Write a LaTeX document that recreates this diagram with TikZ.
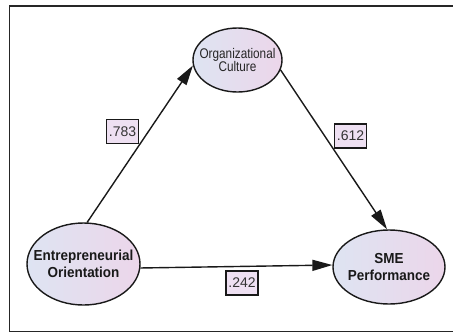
\documentclass[tikz,border=0pt]{standalone}
\usepackage{fontspec}
\setmainfont{Liberation Sans}
\newfontfamily\narrowfont[FakeStretch=0.84]{Liberation Sans}
\newfontfamily\semifont[FakeStretch=0.93]{Liberation Sans}
\usetikzlibrary{shapes.geometric,arrows.meta}
\definecolor{shadeL}{RGB}{222,228,242}
\definecolor{shadeR}{RGB}{236,214,234}
\definecolor{boxfill}{RGB}{238,224,242}
\definecolor{linec}{RGB}{25,25,25}
\tikzset{
  latent/.style={ellipse, draw=linec, line width=1.4pt, inner sep=0pt,
    left color=shadeL, right color=shadeR},
  coef/.style={draw=linec, line width=1.4pt, fill=boxfill, inner sep=1.5pt,
    minimum width=32pt, minimum height=24pt, font=\fontsize{14}{15}\selectfont, text=black!80},
  path/.style={draw=linec, line width=1.4pt, -{Triangle[length=20pt,width=11pt]}},
  boldlab/.style={font=\semifont\bfseries\fontsize{14.5}{17.5}\selectfont, align=center, text=black!90},
  normlab/.style={font=\narrowfont\fontsize{14}{13.5}\selectfont, align=center, text=black!85}
}
\begin{document}
\begin{tikzpicture}[x=1pt,y=-1pt]
\useasboundingbox (0,0) rectangle (453,333);
\draw[line width=1.6pt, draw=black!85] (453,6) -- (9.5,6) -- (9.5,331.5) -- (453,331.5);
\node[latent, minimum width=89pt, minimum height=64pt,
  label={[normlab]center:Organizational\\Culture}] (oc) at (237.5,60) {};
\node[latent, minimum width=113pt, minimum height=82pt,
  label={[boldlab]center:Entrepreneurial\\Orientation}] (eo) at (83.5,264) {};
\node[latent, minimum width=112pt, minimum height=74pt,
  label={[boldlab]center:SME\\Performance}] (sme) at (389,267) {};
\draw[path] (eo.85) -- (oc.187);
\draw[path] (oc.-13) -- (sme.93);
\draw[path] (eo.-4) -- (sme.178);
\node[coef] (c1) at (122.5,131.5) {.783};
\node[coef] (c2) at (350.5,136) {.612};
\node[coef] (c3) at (242,283) {.242};
\end{tikzpicture}
\end{document}
